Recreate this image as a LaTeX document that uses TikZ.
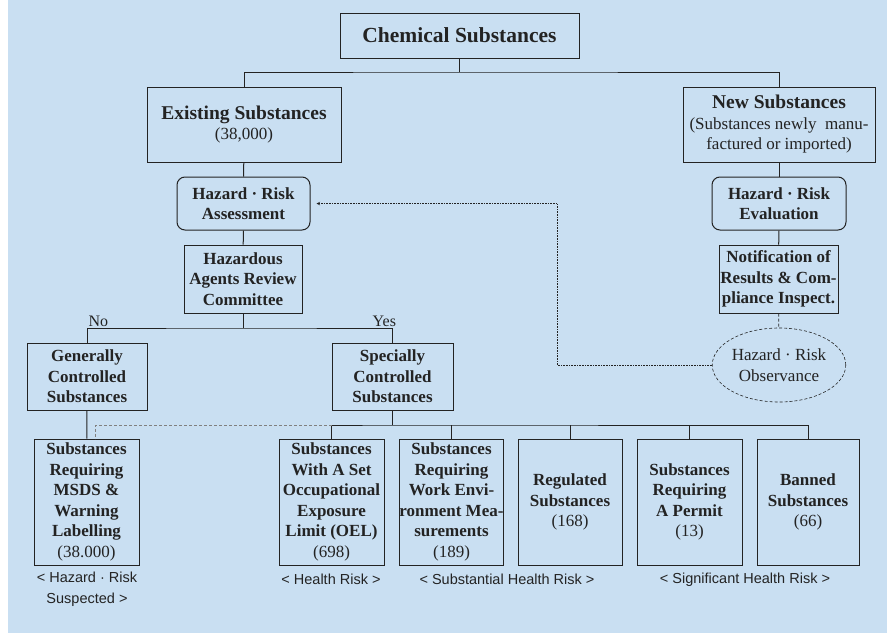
\documentclass[tikz,border=0pt]{standalone}
\usepackage{fontspec}
\setmainfont{Liberation Serif}
\setsansfont{Liberation Sans}
\usetikzlibrary{shapes.geometric}
\definecolor{panel}{RGB}{201,223,242}
\definecolor{ink}{RGB}{35,35,35}

\begin{document}
\begin{tikzpicture}
            [x=1pt, y=-1pt, line width=1pt, color=ink,
             box/.style={draw, rectangle, align=center, inner sep=1pt,
                         font=\fontsize{17}{20.5}\selectfont\bfseries},
             rbox/.style={box, rounded corners=8pt},
             leaf/.style={box, inner xsep=0pt, minimum height=126pt},
             note/.style={align=center, font=\sffamily\fontsize{14.5}{21}\selectfont},
             feedback/.style={densely dotted, line width=0.6pt, ->, >=stealth, shorten >=6pt}]
            \fill[white] (0,0) rectangle (887,635);
            \fill[panel] (8,0) rectangle (887,633);
            % top levels
            \node[box, minimum width=239pt, minimum height=45pt,
                  font=\fontsize{21.5}{25}\selectfont\bfseries] (chem) at (459.5,35.5) {Chemical Substances};
            \node[box, minimum width=194pt, minimum height=75pt] (exist) at (244,124.5)
                 {{\fontsize{19.5}{22}\selectfont Existing Substances}\\{\normalfont (38,000)}};
            \node[box, minimum width=192pt, minimum height=75pt] (new) at (779,124.5)
                 {{\fontsize{19.5}{22}\selectfont New Substances}\\{\normalfont (Substances newly\ \ manu-}\\{\normalfont factured or imported)}};
            \node[rbox, minimum width=133pt, minimum height=53pt] (assess) at (243.5,203.5) {Hazard · Risk\\Assessment};
            \node[rbox, minimum width=134pt, minimum height=53pt] (eval) at (779,203.5) {Hazard · Risk\\Evaluation};
            \node[box, minimum width=118pt, minimum height=68pt] (committee) at (243,279) {Hazardous\\Agents Review\\Committee};
            \node[box, minimum width=119pt, minimum height=68pt] (notify) at (778.5,279) {Notification of\\Results \& Com-\\pliance Inspect.};
            \node[draw, ellipse, densely dashed, line width=0.6pt, minimum width=132pt, minimum height=74pt,
                  inner sep=0pt, align=center, font=\fontsize{17}{20.5}\selectfont] (observe) at (779,365) {Hazard · Risk\\Observance};
            \node[box, minimum width=120pt, minimum height=67pt] (general) at (87,376.5) {Generally\\Controlled\\Substances};
            \node[box, minimum width=121pt, minimum height=67pt] (special) at (392.5,376.5) {Specially\\Controlled\\Substances};
            % bottom row
            \node[leaf, minimum width=105pt] (msds) at (86.5,502) {Substances\\Requiring\\MSDS \&\\Warning\\Labelling\\{\normalfont (38.000)}};
            \node[leaf, minimum width=105pt] (oel) at (331.5,502) {Substances\\With A Set\\Occupational\\Exposure\\Limit (OEL)\\{\normalfont (698)}};
            \node[leaf, minimum width=103pt] (work) at (451.5,502) {Substances\\Requiring\\Work Envi-\\ronment Mea-\\surements\\{\normalfont (189)}};
            \node[leaf, minimum width=104pt] (reg) at (570,502) {Regulated\\Substances\\{\normalfont (168)}};
            \node[leaf, minimum width=105pt] (permit) at (689.5,502) {Substances\\Requiring\\A Permit\\{\normalfont (13)}};
            \node[leaf, minimum width=102pt] (banned) at (808,502) {Banned\\Substances\\{\normalfont (66)}};
            \node[note] (suspect) at (87,589) {< Hazard · Risk\\Suspected >};
            \node[note] (health) at (331,579) {< Health Risk >};
            \node[note] (subst) at (507,579) {< Substantial Health Risk >};
            \node[note] (signif) at (745,580) {< Significant Health Risk >};
            % connectors
            \coordinate (top) at (459.5,72);
            \draw (chem.south) -- (top);
            \draw (exist.north) |- (top) -| (new.north);
            \draw (exist) -- (assess);
            \draw (new) -- (eval);
            \draw (assess) -- (committee);
            \draw (eval) -- (notify);
            \draw[line width=0.6pt, densely dashed] (notify) -- (observe);
            \coordinate (split) at (243,328);
            \draw (committee.south) -- (split);
            \draw (general.north) |- (split) -| (special.north);
            \node[anchor=south west, inner sep=1pt, font=\fontsize{16}{18}\selectfont] (no) at (general.north |- split) {No};
            \node[anchor=south east, inner sep=1pt, xshift=5pt, font=\fontsize{16}{18}\selectfont] (yes) at (special.north |- split) {Yes};
            \coordinate (row) at (392.5,425);
            \draw (special) -- (row);
            \draw (oel.north) |- (row) -| (banned.north);
            \foreach \leafname in {work,reg,permit}
                \draw (\leafname.north) -- (\leafname.north |- row);
            \draw (general) -- (msds);
            \coordinate (stub) at (95,425);
            \draw[line width=0.6pt, densely dashed, gray] (oel.north |- row) -- (stub) -- (stub |- msds.north);
            \coordinate (turn) at (557,203.5);
            \draw[feedback] (observe.west) -| (turn) -- (assess.east);
        \end{tikzpicture}
\end{document}
